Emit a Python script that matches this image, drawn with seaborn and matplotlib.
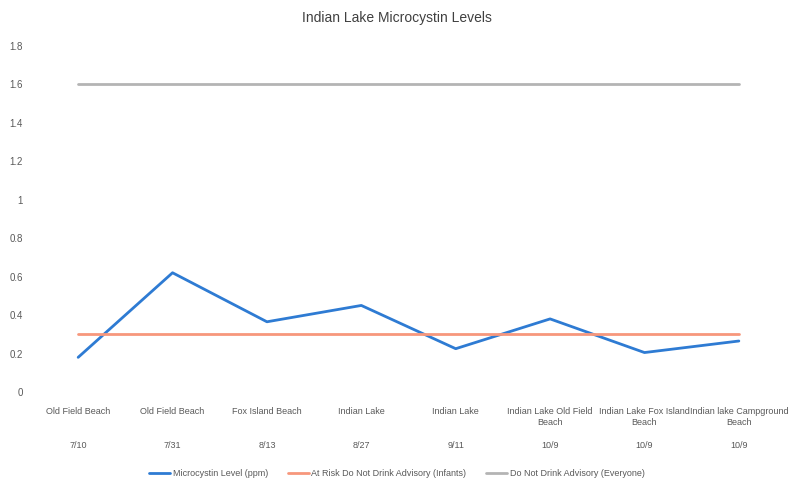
import pandas as pd
import matplotlib.pyplot as plt
import seaborn as sns

# Sampling sites / dates
sites = ['Old Field Beach', 'Old Field Beach', 'Fox Island Beach', 'Indian Lake',
         'Indian Lake', 'Indian Lake Old Field\nBeach', 'Indian Lake Fox Island\nBeach',
         'Indian lake Campground\nBeach']
dates = ['7/10', '7/31', '8/13', '8/27', '9/11', '10/9', '10/9', '10/9']
microcystin = [0.18, 0.62, 0.365, 0.45, 0.225, 0.38, 0.205, 0.265]
at_risk = [0.3] * 8
everyone = [1.6] * 8
series_names = ['Microcystin Level (ppm)', 'At Risk Do Not Drink Advisory (Infants)',
                'Do Not Drink Advisory (Everyone)']
colors = ['#2e7bd3', '#f7977c', '#b4b4b4']

rows = []
for name, vals in zip(series_names, [microcystin, at_risk, everyone]):
    for i, v in enumerate(vals):
        rows.append({'idx': i, 'value': v, 'series': name})
df = pd.DataFrame(rows)

sns.set_theme(style='white')
plt.rcParams['font.family'] = ['Liberation Sans', 'DejaVu Sans']
text_col = '#595959'

fig = plt.figure(figsize=(7.94, 4.78), dpi=100)
ax = fig.add_axes([0.039, 0.18, 0.951, 0.724])

sns.lineplot(data=df, x='idx', y='value', hue='series', palette=colors,
             linewidth=2.0, ax=ax, legend=True)

ax.set_xlim(-0.5, 7.5)
ax.set_ylim(0, 1.8)
ax.set_yticks([i * 0.2 for i in range(10)])
ax.set_yticklabels(['%g' % round(i * 0.2, 1) for i in range(10)], fontsize=7, color=text_col)

labels = []
for s, d in zip(sites, dates):
    n = s.count('\n')
    labels.append(s + '\n' * (3 - n) + d)
ax.set_xticks(range(len(sites)))
ax.set_xticklabels(labels, fontsize=6.5, color=text_col, linespacing=1.3)
ax.tick_params(axis='x', pad=11, length=0)
ax.tick_params(axis='y', pad=6, length=0)
ax.set_xlabel('')
ax.set_ylabel('')
for sp in ax.spines.values():
    sp.set_visible(False)

handles, lbls = ax.get_legend_handles_labels()
ax.get_legend().remove()
fig.legend(handles, lbls, loc='lower center', bbox_to_anchor=(0.5, -0.018), ncol=3,
           frameon=False, fontsize=6.5, labelcolor=text_col, handlelength=2.3,
           handletextpad=0.3, columnspacing=2.2)

fig.suptitle('Indian Lake Microcystin Levels', y=0.978, fontsize=10, color='#404040')

fig.savefig('out.png', dpi=100)
